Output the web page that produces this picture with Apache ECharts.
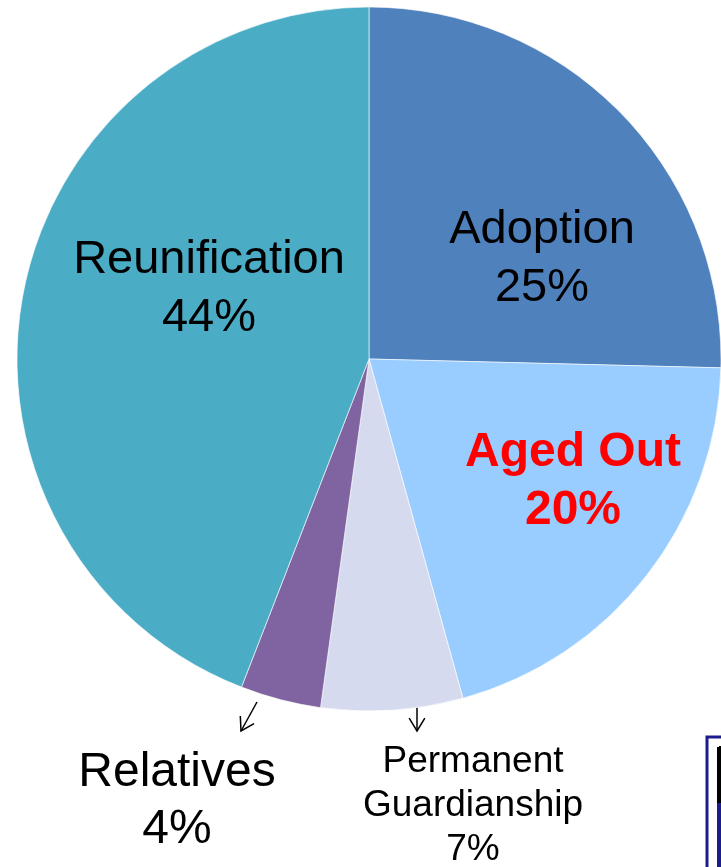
<!DOCTYPE html>
<html lang="en">
<head>
	<meta charset="UTF-8">
	<title>Exits</title>
	<style>
		html,body{margin:0px;padding:0px;background:#fff;}
		#main{width:721px;height:867px;}
	</style>
</head>
<body>
	<div id="main"></div>
	<script src="https://cdn.jsdelivr.net/npm/echarts@6/dist/echarts.min.js"></script>
	<script type="text/javascript">
		// slices, clockwise from 12 o'clock
		var names = ['Adoption', 'Aged Out', 'Permanent\nGuardianship', 'Relatives', 'Reunification'];
		var values = [25.4, 20.3, 6.5, 3.7, 44.1];
		var colors = ['#4F81BD', '#99CCFF', '#D6DAEE', '#8064A2', '#4BACC6'];

		// label centers (x, y) and text styles
		var labelPos = [[542, 259], [573, 482], [473, 806], [177, 801], [209, 289]];
		var labelStyle = [
			{fontSize: 47, lineHeight: 58, color: '#000'},
			{fontSize: 48, lineHeight: 58, color: '#FF0000', fontWeight: 'bold'},
			{fontSize: 37, lineHeight: 44, color: '#000'},
			{fontSize: 48, lineHeight: 57, color: '#000'},
			{fontSize: 47, lineHeight: 58, color: '#000'}
		];

		var data = names.map(function(n, i){
			return {
				name: n,
				value: values[i],
				itemStyle: {color: colors[i]},
				label: labelStyle[i]
			};
		});

		function arrow(x1, y1, x2, y2){
			var a = Math.atan2(y2 - y1, x2 - x1), h = 15, w = 0.55;
			return [
				{type: 'line', shape: {x1: x1, y1: y1, x2: x2, y2: y2}, style: {stroke: '#000', lineWidth: 1.5}},
				{type: 'polyline', shape: {points: [
					[x2 - h * Math.cos(a - w), y2 - h * Math.sin(a - w)],
					[x2, y2],
					[x2 - h * Math.cos(a + w), y2 - h * Math.sin(a + w)]
				]}, style: {stroke: '#000', lineWidth: 1.5, fill: null}}
			];
		}

		var graphics = [].concat(
			arrow(257, 702, 241, 731),
			arrow(417, 702, 417, 731),
			[
				{type: 'rect', shape: {x: 707, y: 737, width: 40, height: 200}, style: {fill: '#fff', stroke: '#1C1C8C', lineWidth: 3}},
				{type: 'line', shape: {x1: 719, y1: 747, x2: 719, y2: 803}, style: {stroke: '#000', lineWidth: 4}},
				{type: 'line', shape: {x1: 719, y1: 747, x2: 721, y2: 747}, style: {stroke: '#000', lineWidth: 2}},
				{type: 'line', shape: {x1: 719, y1: 803, x2: 719, y2: 867}, style: {stroke: '#1C1C8C', lineWidth: 4}}
			]
		);

		var option = {
			animation: false,
			backgroundColor: '#fff',
			textStyle: {fontFamily: 'Liberation Sans, Arial, sans-serif'},
			series: [{
				type: 'pie',
				center: [369, 359],
				radius: [0, 352],
				startAngle: 90,
				clockwise: true,
				percentPrecision: 0,
				data: data,
				itemStyle: {borderColor: 'rgba(255,255,255,0.6)', borderWidth: 1},
				label: {
					show: true,
					position: 'inside',
					formatter: '{b}\n{d}%',
					fontFamily: 'Liberation Sans, Arial, sans-serif',
					align: 'center',
					verticalAlign: 'middle'
				},
				labelLine: {show: false},
				labelLayout: function(params){
					var p = labelPos[params.dataIndex];
					return {x: p[0], y: p[1], align: 'center', verticalAlign: 'middle'};
				}
			}],
			graphic: graphics
		};

		var myChart = echarts.init(document.getElementById('main'));
		myChart.setOption(option);
	</script>
</body>
</html>
